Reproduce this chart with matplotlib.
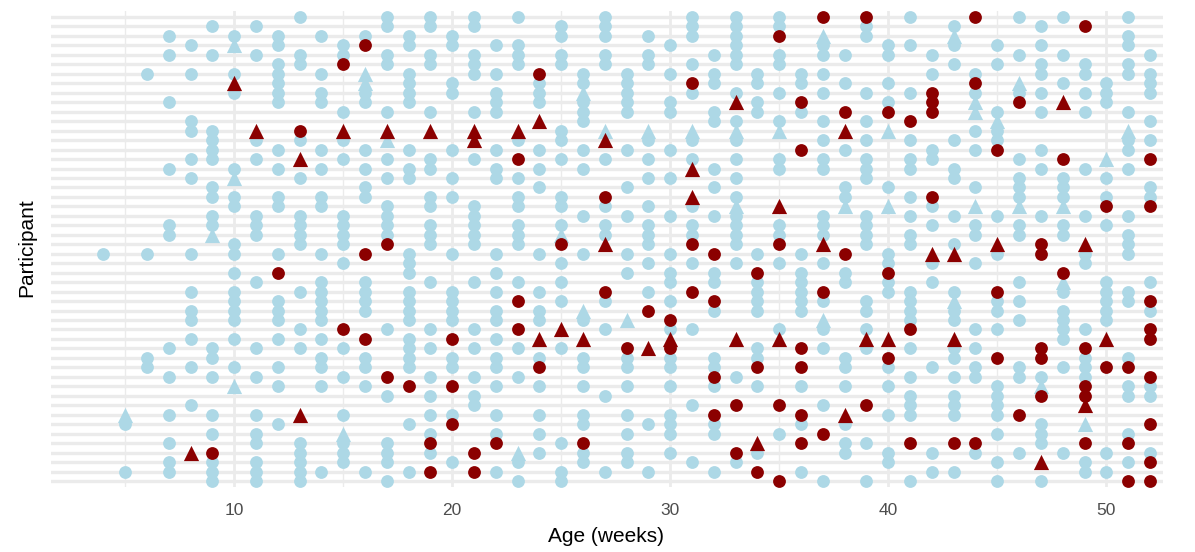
import matplotlib
matplotlib.use("Agg")
import matplotlib.pyplot as plt

# participant rows (0 = top) at each age in weeks, split by colour and shape
blue_circle = {
    4: [25],
    5: [43, 48],
    6: [6, 25, 36, 37],
    7: [2, 4, 9, 16, 22, 23, 35, 38, 42, 45, 47, 48],
    8: [3, 6, 11, 12, 15, 17, 25, 29, 31, 32, 34, 37, 41],
    9: [1, 4, 12, 13, 14, 15, 18, 19, 21, 22, 35, 36, 38, 42, 44, 47, 48, 49],
    10: [2, 6, 8, 16, 19, 20, 24, 25, 27, 29, 30, 31, 32, 34, 37],
    11: [1, 4, 13, 15, 21, 22, 23, 28, 35, 38, 42, 44, 45, 47, 48, 49],
    12: [2, 3, 5, 6, 7, 8, 9, 14, 16, 19, 20, 25, 30, 31, 32, 34, 37, 39, 43],
    13: [0, 4, 5, 13, 17, 21, 22, 23, 24, 29, 33, 35, 45, 46, 47, 48, 49],
    14: [2, 6, 8, 9, 14, 16, 19, 20, 25, 28, 29, 30, 31, 32, 34, 36, 37, 39, 48],
    15: [3, 4, 10, 13, 15, 21, 22, 23, 24, 26, 35, 38, 42, 45, 46, 47],
    16: [2, 8, 9, 14, 16, 18, 19, 28, 29, 30, 31, 36, 37, 39, 48],
    17: [0, 1, 4, 5, 10, 15, 17, 20, 21, 22, 23, 33, 40, 45, 46, 47, 49],
    18: [2, 3, 6, 7, 8, 9, 14, 16, 17, 25, 26, 27, 29, 30, 31, 32, 34, 35, 36, 37, 43, 48],
    19: [0, 1, 4, 5, 10, 15, 16, 19, 20, 22, 23, 24, 28, 33, 35, 38, 40, 42, 44, 46],
    20: [2, 3, 7, 8, 14, 17, 19, 25, 29, 30, 31, 32, 36, 37, 42, 47],
    21: [0, 1, 4, 5, 6, 10, 15, 20, 21, 22, 23, 24, 28, 33, 35, 38, 40, 41],
    22: [3, 6, 8, 9, 10, 14, 16, 17, 25, 27, 29, 31, 32, 34, 36, 37, 39, 42, 44, 48],
    23: [0, 3, 4, 5, 13, 17, 19, 20, 22, 23, 24, 28, 35, 38, 47, 49],
    24: [7, 8, 9, 14, 16, 18, 25, 29, 31, 32, 36, 39, 42, 44, 46],
    25: [1, 2, 4, 5, 12, 13, 15, 19, 20, 22, 26, 28, 30, 35, 45, 48, 49],
    26: [6, 7, 9, 10, 11, 14, 16, 21, 25, 32, 36, 37, 39, 42, 43, 46, 47],
    27: [0, 1, 2, 4, 5, 15, 20, 22, 23, 30, 33, 40, 48],
    28: [6, 7, 8, 9, 10, 14, 18, 21, 25, 27, 36, 37, 39, 42, 44, 46, 47],
    29: [2, 4, 5, 13, 15, 17, 20, 22, 23, 24, 26, 29, 43, 48],
    30: [3, 6, 9, 10, 14, 17, 21, 25, 27, 28, 30, 33, 36, 37, 39, 42, 43, 44, 46],
    31: [0, 1, 2, 5, 8, 13, 15, 20, 22, 23, 26, 33, 41, 47],
    32: [4, 6, 7, 10, 11, 16, 18, 21, 27, 28, 31, 36, 37, 39, 43, 44, 48],
    33: [0, 1, 2, 3, 4, 5, 8, 11, 13, 15, 17, 19, 21, 22, 23, 24, 26, 38, 47],
    34: [6, 7, 9, 10, 25, 28, 29, 30, 31, 35, 36, 39, 46],
    35: [0, 1, 4, 5, 8, 11, 15, 16, 22, 23, 26, 33, 44],
    36: [6, 7, 10, 25, 27, 28, 29, 30, 31, 39, 43, 48],
    37: [3, 4, 6, 8, 11, 13, 15, 16, 21, 22, 23, 26, 30, 33, 35, 41, 49],
    38: [4, 7, 14, 18, 19, 27, 28, 36, 37, 39, 43, 45, 46],
    39: [1, 2, 8, 11, 13, 15, 16, 17, 21, 22, 23, 24, 30, 31, 33, 35, 45, 49],
    40: [3, 4, 7, 9, 18, 25, 26, 28, 29, 37, 39, 42, 46, 47],
    41: [0, 3, 8, 13, 15, 16, 19, 21, 23, 24, 29, 30, 31, 32, 35, 38, 40, 41, 42, 49],
    42: [4, 6, 14, 15, 20, 22, 26, 28, 37, 46, 48],
    43: [1, 3, 5, 13, 16, 17, 21, 24, 29, 31, 32, 35, 36, 38, 40, 41, 42, 48],
    44: [6, 8, 12, 14, 18, 22, 23, 26, 33, 35, 37, 38, 46],
    45: [3, 5, 10, 12, 13, 21, 25, 30, 31, 33, 39, 40, 41, 42, 44, 47, 49],
    46: [0, 4, 8, 15, 17, 18, 19, 22, 23, 28, 30, 32, 37, 38, 46],
    47: [1, 3, 5, 6, 8, 10, 14, 16, 21, 38, 43, 44, 45, 49],
    48: [0, 4, 7, 17, 18, 19, 22, 23, 29, 31, 32, 33, 34, 37, 46],
    49: [5, 6, 8, 10, 16, 21, 25, 26, 33, 36, 37, 38, 47, 48],
    50: [7, 8, 9, 17, 19, 22, 28, 29, 30, 31, 32, 46, 48],
    51: [0, 2, 3, 5, 6, 10, 13, 14, 16, 21, 23, 24, 25, 29, 30, 36, 39, 40, 44, 47],
    52: [4, 6, 7, 8, 11, 13, 18, 19, 28, 31, 39, 40, 46],
}

blue_triangle = {
    5: [42], 9: [23], 10: [3, 17, 39], 15: [44], 16: [6, 7], 17: [13],
    23: [46], 25: [23], 26: [8, 31], 27: [12], 28: [32], 29: [12],
    31: [12], 33: [12, 20], 35: [12], 37: [2, 32], 38: [20], 40: [12, 20],
    43: [2, 30], 44: [9, 10, 20], 45: [11], 46: [7, 20], 47: [39],
    48: [20, 28], 49: [43], 50: [15], 51: [12],
}

red_circle = {
    9: [46], 12: [27], 13: [12], 15: [5, 33], 16: [3, 25, 34], 17: [24, 38],
    18: [39], 19: [45, 48], 20: [34, 39, 43], 21: [46, 48], 22: [45],
    23: [15, 30, 33], 24: [6, 37], 25: [24], 26: [45], 27: [19, 29],
    28: [35], 29: [31], 30: [32, 35], 31: [7, 24, 29], 32: [25, 30, 38, 42],
    33: [41, 46], 34: [27, 37, 48], 35: [2, 24, 41, 49],
    36: [9, 14, 35, 37, 42, 45], 37: [0, 29, 44], 38: [10, 25], 39: [0, 41],
    40: [10, 27, 36], 41: [11, 33, 45], 42: [8, 9, 10, 19], 43: [45],
    44: [0, 7, 45], 45: [14, 29, 36], 46: [9, 42], 47: [24, 25, 35, 36, 40],
    48: [15, 27], 49: [1, 35, 39, 40, 45], 50: [20, 37], 51: [37, 45, 49],
    52: [15, 20, 30, 33, 34, 38, 43, 47, 49],
}

red_triangle = {
    8: [46], 10: [7], 11: [12], 13: [15, 42], 15: [12], 17: [12], 19: [12],
    21: [12, 13], 23: [12], 24: [11, 34], 25: [33], 26: [34], 27: [13, 24],
    29: [35], 30: [34], 31: [16, 19], 33: [9, 34], 34: [45], 35: [20, 34],
    37: [24], 38: [12, 42], 39: [34], 40: [34], 42: [25], 43: [25, 34],
    45: [24], 47: [47], 48: [9], 49: [24, 41], 50: [34],
}

n_participants = 50


def unpack(d):
    xs, ys = [], []
    for age, rows in d.items():
        for r in rows:
            xs.append(age)
            ys.append(r)
    return xs, ys


plt.rcParams['font.family'] = ['Liberation Sans', 'DejaVu Sans']

fig = plt.figure(figsize=(11.95, 5.52), dpi=100)
W, H = 1195, 552
# panel from x=51 to x=1163 px, ~21.8 px per week
ax = fig.add_axes([51 / W, 65.3 / H, 1112 / W, 475.4 / H])
ax.set_xlim(1.6, 52.6)
ax.set_ylim(n_participants - 1 + 0.6, -0.6)

grid = '#EBEBEB'
for r in range(n_participants):
    ax.axhline(r, color=grid, lw=2.4, zorder=0)
for v in [5, 15, 25, 35, 45]:
    ax.axvline(v, color=grid, lw=1.0, zorder=0)
for v in [10, 20, 30, 40, 50]:
    ax.axvline(v, color=grid, lw=2.0, zorder=0)

light = '#ADD8E6'
dark = '#8B0000'
x, y = unpack(blue_circle)
ax.scatter(x, y, s=85, marker='o', color=light, lw=0, zorder=2)
x, y = unpack(blue_triangle)
ax.scatter(x, y, s=120, marker='^', color=light, lw=0, zorder=2)
x, y = unpack(red_circle)
ax.scatter(x, y, s=85, marker='o', color=dark, lw=0, zorder=3)
x, y = unpack(red_triangle)
ax.scatter(x, y, s=120, marker='^', color=dark, lw=0, zorder=3)

ax.set_xticks([10, 20, 30, 40, 50])
ax.set_yticks([])
ax.tick_params(axis='x', length=0, pad=12, labelsize=12.5, labelcolor='#4D4D4D')
for s in ax.spines.values():
    s.set_visible(False)

fig.text(606 / W, 1 - 537 / H, 'Age (weeks)', ha='center', va='center', fontsize=15)
fig.text(27 / W, 1 - 248 / H, 'Participant', ha='center', va='center',
         rotation=90, fontsize=15)

fig.savefig('out.png', dpi=100)
